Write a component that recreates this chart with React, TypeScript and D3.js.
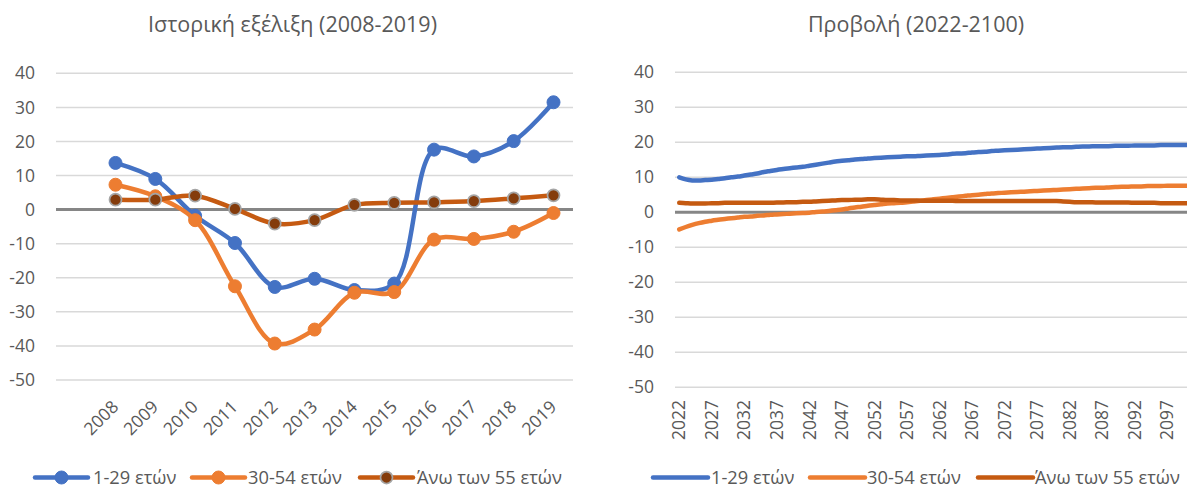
import React from "react";
import * as d3 from "d3";

// ---------- data ----------
const histYears = ["2008", "2009", "2010", "2011", "2012", "2013", "2014", "2015", "2016", "2017", "2018", "2019"];
const hist129 = [13.7, 9.0, -1.8, -9.8, -22.7, -20.3, -23.6, -21.7, 17.6, 15.6, 20.1, 31.5];
const hist3054 = [7.3, 3.9, -3.1, -22.5, -39.3, -35.2, -24.4, -24.2, -8.8, -8.6, -6.5, -1.0];
const hist55 = [2.9, 2.9, 4.1, 0.2, -4.1, -3.1, 1.4, 2.0, 2.1, 2.5, 3.3, 4.2];

const projYears = [
  2022, 2023, 2024, 2025, 2026, 2027, 2028, 2029, 2030, 2031,
  2032, 2033, 2034, 2035, 2036, 2037, 2038, 2039, 2040, 2041,
  2042, 2043, 2044, 2045, 2046, 2047, 2048, 2049, 2050, 2051,
  2052, 2053, 2054, 2055, 2056, 2057, 2058, 2059, 2060, 2061,
  2062, 2063, 2064, 2065, 2066, 2067, 2068, 2069, 2070, 2071,
  2072, 2073, 2074, 2075, 2076, 2077, 2078, 2079, 2080, 2081,
  2082, 2083, 2084, 2085, 2086, 2087, 2088, 2089, 2090, 2091,
  2092, 2093, 2094, 2095, 2096, 2097, 2098, 2099, 2100,
];
const proj129 = [
  10.0, 9.4, 9.1, 9.1, 9.2, 9.3, 9.5, 9.7, 10.0, 10.2,
  10.5, 10.8, 11.1, 11.5, 11.8, 12.1, 12.4, 12.6, 12.8, 13.0,
  13.3, 13.6, 13.9, 14.2, 14.5, 14.7, 14.9, 15.1, 15.2, 15.4,
  15.5, 15.6, 15.7, 15.8, 15.9, 16.0, 16.0, 16.1, 16.2, 16.3,
  16.4, 16.5, 16.7, 16.8, 16.9, 17.1, 17.2, 17.3, 17.5, 17.6,
  17.7, 17.8, 17.9, 18.0, 18.1, 18.2, 18.3, 18.4, 18.5, 18.6,
  18.6, 18.7, 18.8, 18.8, 18.9, 18.9, 18.9, 19.0, 19.0, 19.0,
  19.1, 19.1, 19.1, 19.1, 19.2, 19.2, 19.2, 19.2, 19.2,
];
const proj3054 = [
  -4.9, -4.2, -3.6, -3.1, -2.7, -2.4, -2.1, -1.9, -1.7, -1.5,
  -1.3, -1.2, -1.0, -0.9, -0.7, -0.6, -0.5, -0.4, -0.3, -0.2,
  -0.1, 0.1, 0.2, 0.4, 0.6, 0.8, 1.1, 1.4, 1.6, 1.9,
  2.1, 2.3, 2.5, 2.6, 2.7, 2.9, 3.1, 3.3, 3.5, 3.7,
  3.9, 4.1, 4.3, 4.5, 4.7, 4.9, 5.0, 5.2, 5.4, 5.5,
  5.6, 5.7, 5.8, 5.9, 6.0, 6.1, 6.2, 6.3, 6.4, 6.5,
  6.6, 6.7, 6.8, 6.9, 7.0, 7.0, 7.1, 7.2, 7.3, 7.3,
  7.4, 7.4, 7.5, 7.5, 7.5, 7.6, 7.6, 7.6, 7.6,
];
const proj55 = [
  2.7, 2.6, 2.5, 2.5, 2.5, 2.6, 2.6, 2.7, 2.7, 2.7,
  2.7, 2.7, 2.7, 2.7, 2.7, 2.8, 2.8, 2.9, 2.9, 3.0,
  3.0, 3.1, 3.2, 3.3, 3.4, 3.5, 3.5, 3.6, 3.6, 3.7,
  3.7, 3.6, 3.5, 3.5, 3.4, 3.4, 3.4, 3.3, 3.3, 3.3,
  3.3, 3.3, 3.3, 3.2, 3.2, 3.2, 3.2, 3.2, 3.2, 3.2,
  3.2, 3.2, 3.2, 3.2, 3.2, 3.2, 3.2, 3.2, 3.2, 3.1,
  3.0, 2.9, 2.9, 2.9, 2.8, 2.8, 2.8, 2.8, 2.8, 2.8,
  2.7, 2.7, 2.7, 2.7, 2.6, 2.6, 2.6, 2.6, 2.6,
];
const projTickYears = [2022, 2027, 2032, 2037, 2042, 2047, 2052, 2057, 2062, 2067, 2072, 2077, 2082, 2087, 2092, 2097];

const yTicks = [40, 30, 20, 10, 0, -10, -20, -30, -40, -50];
const seriesNames = ["1-29 ετών", "30-54 ετών", "Άνω των 55 ετών"];
const leftTitle = "Ιστορική εξέλιξη (2008-2019)";
const rightTitle = "Προβολή (2022-2100)";

// ---------- styles ----------
const COLORS = ["#4472C4", "#ED7D31", "#C55A11"];
const MARKER_FILL = ["#4472C4", "#ED7D31", "#843C0C"];
const MARKER_STROKE = ["#4472C4", "#ED7D31", "#A5A5A5"];
const TEXT = "#595959";
const GRID = "#D9D9D9";
const ZERO = "#868686";
const FONT = "'Open Sans', 'Noto Sans', sans-serif";

export default function App() {
  const W = 1187, H = 488;

  // left chart
  const L = { gx0: 56, gx1: 573 };
  const xL = d3.scalePoint<string>().domain(histYears).range([115.5, 553.5]);
  const yL = d3.scaleLinear().domain([-50, 40]).range([380, 73.3]);
  const lineL = d3
    .line<number>()
    .x((_, i) => xL(histYears[i]) as number)
    .y((d) => yL(d))
    .curve(d3.curveCatmullRom.alpha(0.5));
  const histSeries = [hist129, hist3054, hist55];

  // right chart
  const R = { gx0: 675, gx1: 1190 };
  const xR = d3.scaleBand<number>().domain(projYears).range([676, 1190]).padding(0);
  const xRc = (yr: number) => (xR(yr) as number) + xR.bandwidth() / 2;
  const yR = d3.scaleLinear().domain([-50, 40]).range([387.3, 72.3]);
  const lineR = d3
    .line<number>()
    .x((_, i) => xRc(projYears[i]))
    .y((d) => yR(d))
    .curve(d3.curveCatmullRom.alpha(0.5));
  const projSeries = [proj129, proj3054, proj55];

  const legendL = [
    { x0: 35, x1: 88, tx: 93 },
    { x0: 192, x1: 245, tx: 248 },
    { x0: 360, x1: 413, tx: 417 },
  ];
  const legendR = [
    { x0: 653, x1: 708, tx: 711 },
    { x0: 810, x1: 865, tx: 867 },
    { x0: 978, x1: 1033, tx: 1035 },
  ];
  const legendY = 477.5;
  const tickFs = 17.5;
  const legFs = 18.3;
  const titleFs = 21.5;

  return (
    <svg
      width={W}
      height={H}
      style={{ position: "absolute", left: 0, top: 0, background: "#fff" }}
      fontFamily={FONT}
    >
      <rect x={0} y={0} width={W} height={H} fill="#fff" />

      {/* ---------- LEFT ---------- */}
      <text x={292.5} y={32} textAnchor="middle" fontSize={titleFs} fill={TEXT}>
        {leftTitle}
      </text>
      {yTicks.map((t) => (
        <g key={"lg" + t}>
          {t !== 0 && (
            <line x1={L.gx0} x2={L.gx1} y1={yL(t)} y2={yL(t)} stroke={GRID} strokeWidth={1.5} />
          )}
          <text x={35} y={yL(t)} dy="0.35em" textAnchor="end" fontSize={tickFs} fill={TEXT}>
            {t}
          </text>
        </g>
      ))}
      <line x1={L.gx0} x2={L.gx1} y1={yL(0)} y2={yL(0)} stroke={ZERO} strokeWidth={3} />
      {histYears.map((yr) => (
        <text
          key={"lx" + yr}
          transform={`translate(${(xL(yr) as number) + 4},${408}) rotate(-45)`}
          textAnchor="end"
          fontSize={tickFs}
          fill={TEXT}
        >
          {yr}
        </text>
      ))}
      {histSeries.map((s, k) => (
        <g key={"ls" + k}>
          <path d={lineL(s) || ""} fill="none" stroke={COLORS[k]} strokeWidth={4.5} strokeLinecap="round" strokeLinejoin="round" />
          {s.map((v, i) => (
            <circle
              key={i}
              cx={xL(histYears[i]) as number}
              cy={yL(v)}
              r={k === 2 ? 6 : 6.5}
              fill={MARKER_FILL[k]}
              stroke={MARKER_STROKE[k]}
              strokeWidth={k === 2 ? 1.75 : 1}
            />
          ))}
        </g>
      ))}
      {seriesNames.map((n, k) => (
        <g key={"ll" + k}>
          <line x1={legendL[k].x0} x2={legendL[k].x1} y1={legendY} y2={legendY} stroke={COLORS[k]} strokeWidth={4.5} strokeLinecap="round" />
          <circle
            cx={(legendL[k].x0 + legendL[k].x1) / 2}
            cy={legendY}
            r={k === 2 ? 6 : 6.5}
            fill={MARKER_FILL[k]}
            stroke={MARKER_STROKE[k]}
            strokeWidth={k === 2 ? 1.75 : 1}
          />
          <text x={legendL[k].tx} y={legendY} dy="0.35em" fontSize={legFs} fill={TEXT}>
            {n}
          </text>
        </g>
      ))}

      {/* ---------- RIGHT ---------- */}
      <text x={916} y={32} textAnchor="middle" fontSize={titleFs} fill={TEXT}>
        {rightTitle}
      </text>
      {yTicks.map((t) => (
        <g key={"rg" + t}>
          {t !== 0 && (
            <line x1={R.gx0} x2={R.gx1} y1={yR(t)} y2={yR(t)} stroke={GRID} strokeWidth={1.5} />
          )}
          <text x={654} y={yR(t)} dy="0.35em" textAnchor="end" fontSize={tickFs} fill={TEXT}>
            {t}
          </text>
        </g>
      ))}
      <line x1={R.gx0} x2={R.gx1} y1={yR(0)} y2={yR(0)} stroke={ZERO} strokeWidth={3} />
      {projTickYears.map((yr) => (
        <text
          key={"rx" + yr}
          transform={`translate(${xRc(yr)},${400}) rotate(-90)`}
          dy="0.35em"
          textAnchor="end"
          fontSize={tickFs}
          fill={TEXT}
        >
          {yr}
        </text>
      ))}
      {projSeries.map((s, k) => (
        <path key={"rs" + k} d={lineR(s) || ""} fill="none" stroke={COLORS[k]} strokeWidth={4.5} strokeLinecap="round" strokeLinejoin="round" />
      ))}
      {seriesNames.map((n, k) => (
        <g key={"rl" + k}>
          <line x1={legendR[k].x0} x2={legendR[k].x1} y1={legendY} y2={legendY} stroke={COLORS[k]} strokeWidth={4.5} strokeLinecap="round" />
          <text x={legendR[k].tx} y={legendY} dy="0.35em" fontSize={legFs} fill={TEXT}>
            {n}
          </text>
        </g>
      ))}
    </svg>
  );
}
